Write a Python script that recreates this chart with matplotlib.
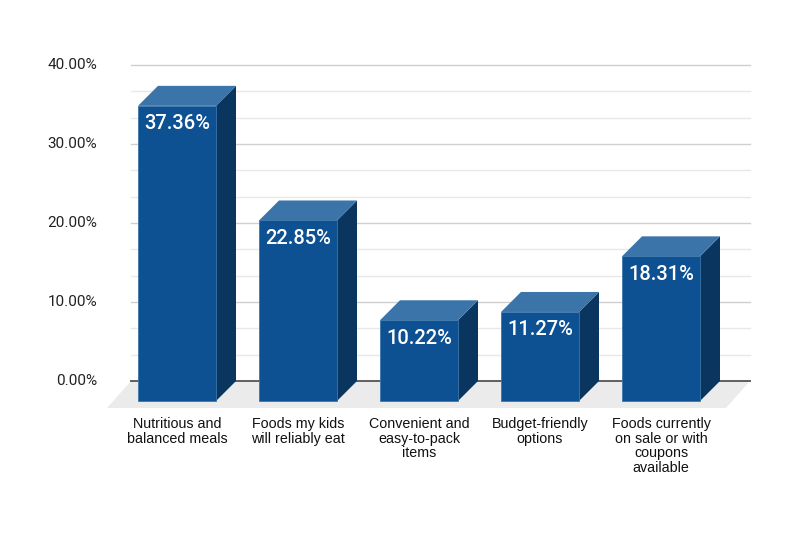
import numpy as np
import matplotlib.pyplot as plt
from matplotlib.patches import Polygon

categories = ["Nutritious and\nbalanced meals", "Foods my kids\nwill reliably eat",
              "Convenient and\neasy-to-pack\nitems", "Budget-friendly\noptions",
              "Foods currently\non sale or with\ncoupons\navailable"]
values = [37.36, 22.85, 10.22, 11.27, 18.31]
tick_values = [0, 10, 20, 30, 40]
tick_labels = ["0.00%", "10.00%", "20.00%", "30.00%", "40.00%"]

# pixel calibration of the 3d look
px_cat = 121.0
px_pct = 7.9
dx = 20 / px_cat
dy = 20 / px_pct
half_w = 39 / px_cat

front_col = "#0e5193"
top_col = "#3b74a9"
side_col = "#09355f"

fig = plt.figure(figsize=(8.04, 5.34), dpi=100)
ax = fig.add_axes([0, 0, 1, 1])
ax.set_xlim(-177 / px_cat, 627 / px_cat)
ax.set_ylim((401 - 534) / px_pct, 401 / px_pct)
ax.axis("off")

wall_l = (131 - 177) / px_cat
wall_r = (750 - 177) / px_cat

# floor
fdx = -24 / px_cat
fdy = -27 / px_pct
ax.add_patch(Polygon([(wall_l, dy), (wall_r, dy), (wall_r + fdx, dy + fdy), (wall_l + fdx, dy + fdy)],
                     closed=True, facecolor="#ebebeb", edgecolor="none", zorder=1))

# gridlines on back wall
for k in range(1, 13):
    v = k * 10 / 3
    major = k % 3 == 0
    ax.plot([wall_l, wall_r], [v + dy, v + dy], color="#cfcfcf" if major else "#e8e8e8",
            lw=1.0, zorder=2)
ax.plot([wall_l, wall_r], [dy, dy], color="#5f5f5f", lw=1.4, zorder=3)

for t, lab in zip(tick_values, tick_labels):
    ax.text(97 / px_cat - 177 / px_cat, t + dy, lab, ha="right", va="center",
            fontsize=11, family="Roboto", color="#222222")

# bars
for i, v in enumerate(values):
    xl, xr = i - half_w, i + half_w
    ax.add_patch(Polygon([(xr, 0), (xr + dx, dy), (xr + dx, v + dy), (xr, v)],
                         closed=True, facecolor=side_col, edgecolor="none", zorder=4))
    ax.add_patch(Polygon([(xl, v), (xr, v), (xr + dx, v + dy), (xl + dx, v + dy)],
                         closed=True, facecolor=top_col, edgecolor="none", zorder=4))
    ax.add_patch(Polygon([(xl, 0), (xr, 0), (xr, v), (xl, v)],
                         closed=True, facecolor=front_col, edgecolor="#3d76ab", lw=0.6, zorder=5))
    ax.text(i, v - 18 / px_pct, f"{v:.2f}%", ha="center", va="center", color="white",
            fontsize=14.5, family="Roboto", fontweight="medium", zorder=6)
    ax.text(i, -16 / px_pct, categories[i], ha="center", va="top", fontsize=10.3,
            family="Liberation Sans", color="#111111", linespacing=1.05)

fig.savefig("out.png", dpi=100, facecolor="white")
